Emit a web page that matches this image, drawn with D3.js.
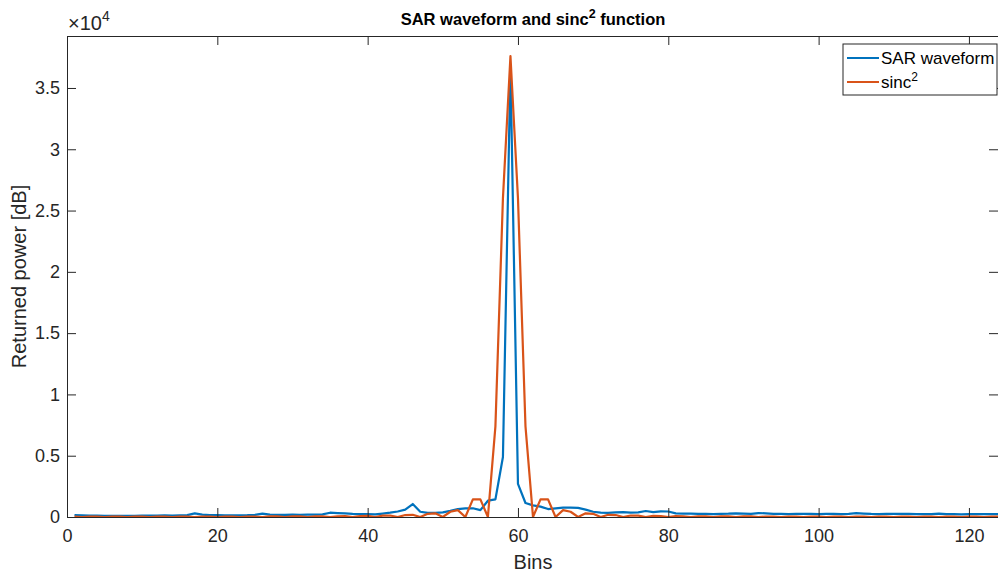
<!DOCTYPE html>
<html>
<head>
<meta charset="utf-8">
<script src="https://cdn.jsdelivr.net/npm/d3@7"></script>
<style>
  html, body { margin: 0; padding: 0; background: #fff; }
  text { font-family: "Liberation Sans", Arial, Helvetica, sans-serif; }
</style>
</head>
<body>
<svg id="chart" width="998" height="574"></svg>
<script>
// ---- data ----
const bins = d3.range(1, 125); // 1..124
const sarWaveform = [
  150,130,120,110,100,100,90,100,100,110,
  120,110,130,120,140,150,300,200,160,150,
  140,130,140,150,180,270,200,180,170,190,
  180,200,190,220,350,320,300,260,240,230,
  220,280,350,450,600,1060,430,330,330,380,
  500,650,710,710,560,1330,1440,4900,36800,2700,
  1140,950,850,650,700,760,760,740,600,430,
  360,330,380,400,350,380,490,400,460,450,
  300,280,270,260,250,240,260,270,300,280,
  260,320,300,260,250,240,250,260,250,240,
  260,250,240,260,310,280,250,240,250,260,
  260,250,240,230,240,280,240,230,220,230,
  240,230,230,230
];
const sinc2 = [
  30,0,30,30,0,30,30,0,30,30,
  0,30,30,0,40,40,0,40,40,0,
  40,40,0,40,40,0,50,50,0,50,
  50,0,50,50,0,60,70,0,80,90,
  0,110,120,0,160,180,0,260,300,0,
  430,560,0,1440,1440,0,7400,26000,37600,26000,
  7400,0,1440,1440,0,560,430,0,300,260,
  0,180,160,0,120,110,0,90,80,0,
  70,60,0,50,50,0,50,50,0,50,
  50,0,40,40,0,40,40,0,40,40,
  0,40,40,0,30,30,0,30,30,0,
  30,30,0,30,30,0,30,30,0,30,
  30,0,30,30
];
const xTicks = [0, 20, 40, 60, 80, 100, 120];
const yTicks = [0, 5000, 10000, 15000, 20000, 25000, 30000, 35000];
const yTickLabels = ["0", "0.5", "1", "1.5", "2", "2.5", "3", "3.5"];
const seriesNames = ["SAR waveform", "sinc"];
const colors = ["#0072BD", "#D95319"];

// ---- layout ----
const svg = d3.select("#chart");
const L = 67, R = 999, T = 36, B = 517;
const x = d3.scaleLinear().domain([0, 124]).range([L, R]);
const y = d3.scaleLinear().domain([0, 39240]).range([B, T]);
const axisColor = "#262626";
const tickLen = 9;

svg.append("defs").append("clipPath").attr("id", "clip")
  .append("rect").attr("x", L).attr("y", T).attr("width", R - L).attr("height", B - T);

// lines
const line = d3.line().x((d, i) => x(bins[i])).y(d => y(d));
[sarWaveform, sinc2].forEach((s, k) => {
  svg.append("path").datum(s)
    .attr("clip-path", "url(#clip)")
    .attr("fill", "none")
    .attr("stroke", colors[k])
    .attr("stroke-width", 2.2)
    .attr("stroke-linejoin", "round")
    .attr("d", line);
});

// axes (MATLAB style: inward ticks, box)
const xAxisB = d3.axisBottom(x).tickValues(xTicks).tickSizeInner(-tickLen).tickSizeOuter(0).tickPadding(12);
const xAxisT = d3.axisTop(x).tickValues(xTicks).tickSizeInner(-tickLen).tickSizeOuter(0).tickFormat("");
const yAxisL = d3.axisLeft(y).tickValues(yTicks).tickSizeInner(-tickLen).tickSizeOuter(0).tickPadding(7)
  .tickFormat((d, i) => yTickLabels[i]);
const yAxisR = d3.axisRight(y).tickValues(yTicks).tickSizeInner(-tickLen).tickSizeOuter(0).tickFormat("");

function style(g) {
  g.select(".domain").attr("stroke", axisColor).attr("stroke-width", 1);
  g.selectAll(".tick line").attr("stroke", axisColor).attr("stroke-width", 1);
  g.selectAll(".tick text").attr("fill", "#262626").attr("font-size", 18)
    .attr("font-family", "'Liberation Sans', Arial, sans-serif");
}
svg.append("g").attr("transform", `translate(0,${B})`).call(xAxisB).call(style);
svg.append("g").attr("transform", `translate(0,${T})`).call(xAxisT).call(style);
svg.append("g").attr("transform", `translate(${L},0)`).call(yAxisL).call(style);
svg.append("g").attr("transform", `translate(${R - 1},0)`).call(yAxisR).call(style);

// exponent label
const ex = svg.append("text").attr("x", L + 1).attr("y", 30).attr("fill", "#262626").attr("font-size", 20);
ex.append("tspan").text("\u00d710");
ex.append("tspan").attr("dy", -9).attr("font-size", 14).text("4");

// title
const title = svg.append("text").attr("x", (L + R) / 2).attr("y", 25)
  .attr("text-anchor", "middle").attr("font-weight", "bold").attr("font-size", 16.5).attr("fill", "#000");
title.append("tspan").text("SAR waveform and sinc");
title.append("tspan").attr("dy", -7).attr("font-size", 12.5).text("2");
title.append("tspan").attr("dy", 7).text(" function");

// axis labels
svg.append("text").attr("x", (L + R) / 2).attr("y", 569).attr("text-anchor", "middle")
  .attr("font-size", 20).attr("fill", "#262626").text("Bins");
svg.append("text").attr("transform", `translate(26,${(T + B) / 2}) rotate(-90)`)
  .attr("text-anchor", "middle").attr("font-size", 20).attr("fill", "#262626").text("Returned power [dB]");

// legend
const lg = svg.append("g");
const lx = 843, ly = 44, lw = 154, lh = 51;
lg.append("rect").attr("x", lx).attr("y", ly).attr("width", lw).attr("height", lh)
  .attr("fill", "#fff").attr("stroke", "#262626").attr("stroke-width", 1);
seriesNames.forEach((name, k) => {
  const cy = ly + 14 + k * 24;
  lg.append("line").attr("x1", lx + 4).attr("x2", lx + 36).attr("y1", cy).attr("y2", cy)
    .attr("stroke", colors[k]).attr("stroke-width", 2);
  const t = lg.append("text").attr("x", lx + 38).attr("y", cy + 6).attr("font-size", 17).attr("fill", "#000");
  t.append("tspan").text(name);
  if (k === 1) t.append("tspan").attr("dy", -7).attr("font-size", 12).text("2");
});
</script>
</body>
</html>
